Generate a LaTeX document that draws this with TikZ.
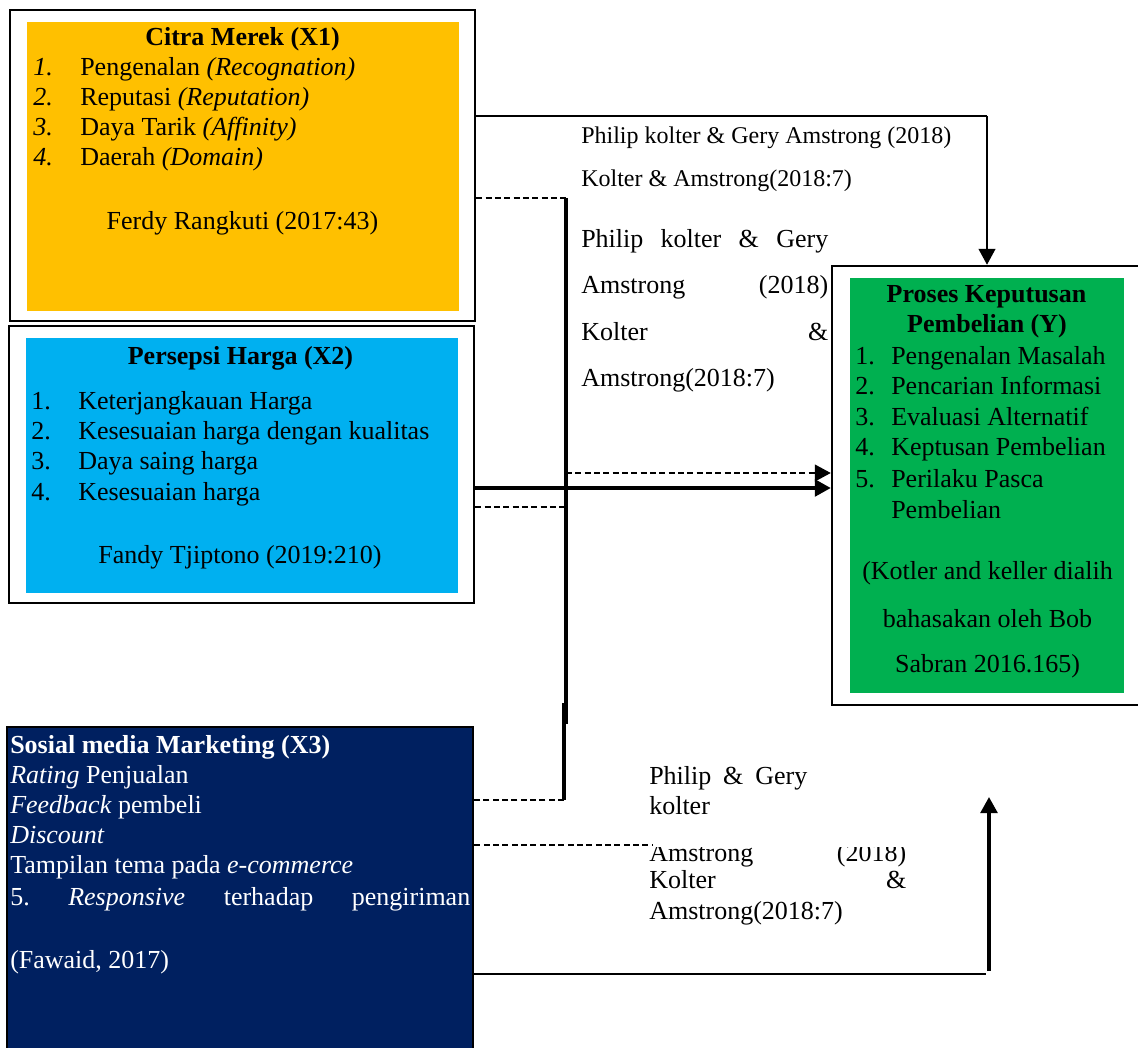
\documentclass[tikz,border=0pt]{standalone}
\usepackage{fontspec}
\setmainfont{Liberation Serif}
\usetikzlibrary{arrows.meta}
\definecolor{cmorange}{HTML}{FFC000}
\definecolor{cmcyan}{HTML}{00B0F0}
\definecolor{cmgreen}{HTML}{00B050}
\definecolor{cmnavy}{HTML}{002060}
\newcommand{\myfs}{\fontsize{19.5pt}{22.5pt}\selectfont}
\newcommand{\mysm}{\fontsize{18pt}{21pt}\selectfont}
\tikzset{
  outerbox/.style={draw=black, line width=1.8pt, inner sep=0pt, fill=white},
  fillbox/.style={draw=none, inner sep=0pt},
  txt/.style={inner sep=0pt, anchor=base west, font=\myfs},
  ctxt/.style={inner sep=0pt, anchor=base, font=\myfs},
  smtxt/.style={inner sep=0pt, anchor=base west, font=\mysm},
  wtxt/.style={txt, text=white},
  tip/.style={-{Triangle[length=12pt,width=12.5pt]}},
  dsh/.style={line width=1.6pt, dash pattern=on 4.5pt off 2.5pt},
  thinln/.style={line width=1.1pt},
  midln/.style={line width=1.7pt},
  thkln/.style={line width=2.6pt},
}
\begin{document}
\begin{tikzpicture}[x=0.75pt,y=-0.75pt]
\clip (0,0) rectangle (1138,1048);
\fill[white] (0,0) rectangle (1138,1048);

% ---------- boxes ----------
\node[outerbox, minimum width=348.75pt, minimum height=233.25pt] (x1) at (242.5,165.5) {};
\node[fillbox, fill=cmorange, minimum width=324pt, minimum height=216.75pt] (x1f) at (243,166.5) {};
\node[outerbox, minimum width=348.75pt, minimum height=207.75pt] (x2) at (241.5,464.5) {};
\node[fillbox, fill=cmcyan, minimum width=324pt, minimum height=191.25pt] (x2f) at (242,465.5) {};
\node[outerbox, minimum width=246pt, minimum height=329.25pt] (y) at (996,485.5) {};
\node[fillbox, fill=cmgreen, minimum width=205.5pt, minimum height=311.25pt] (yf) at (987,485.5) {};
\node[outerbox, fill=cmnavy, line width=2.2pt, minimum width=349.5pt, minimum height=257.25pt] (x3) at (240,898.5) {};

% ---------- X1 text ----------
\node[ctxt] (x1t) at (242.5,46) {\textbf{Citra Merek (X1)}};
\node[txt] (x1n1) at (33,76) {\textit{1.}};
\node[txt] (x1n2) at (33,106) {\textit{2.}};
\node[txt] (x1n3) at (33,136) {\textit{3.}};
\node[txt] (x1n4) at (33,166) {\textit{4.}};
\node[txt] (x1i1) at (80,76) {Pengenalan \textit{(Recognation)}};
\node[txt] (x1i2) at (80,106) {Reputasi \textit{(Reputation)}};
\node[txt] (x1i3) at (80,136) {Daya Tarik \textit{(Affinity)}};
\node[txt] (x1i4) at (80,166) {Daerah \textit{(Domain)}};
\node[ctxt] (x1s) at (242.5,230) {Ferdy Rangkuti (2017:43)};

% ---------- X2 text ----------
\node[ctxt] (x2t) at (240.5,364) {\textbf{Persepsi Harga (X2)}};
\node[txt] (x2n1) at (31,409) {1.};
\node[txt] (x2n2) at (31,439) {2.};
\node[txt] (x2n3) at (31,469) {3.};
\node[txt] (x2n4) at (31,500) {4.};
\node[txt] (x2i1) at (78,409) {Keterjangkauan Harga};
\node[txt] (x2i2) at (78,439) {Kesesuaian harga dengan kualitas};
\node[txt] (x2i3) at (78,469) {Daya saing harga};
\node[txt] (x2i4) at (78,500) {Kesesuaian harga};
\node[ctxt] (x2s) at (240,563) {Fandy Tjiptono (2019:210)};

% ---------- Y text ----------
\node[ctxt] (yt1) at (986.5,303) {\textbf{Proses Keputusan}};
\node[ctxt] (yt2) at (987,333) {\textbf{Pembelian (Y)}};
\node[txt] (yn1) at (855,364) {1.};
\node[txt] (yn2) at (855,394) {2.};
\node[txt] (yn3) at (855,425) {3.};
\node[txt] (yn4) at (855,455) {4.};
\node[txt] (yn5) at (855,487) {5.};
\node[txt] (yi1) at (891,364) {Pengenalan Masalah};
\node[txt] (yi2) at (891,394) {Pencarian Informasi};
\node[txt] (yi3) at (891,425) {Evaluasi Alternatif};
\node[txt] (yi4) at (891,455) {Keptusan Pembelian};
\node[txt] (yi5) at (891,487) {Perilaku Pasca};
\node[txt] (yi6) at (891,518) {Pembelian};
\node[ctxt] (ys1) at (987.5,579) {(Kotler and keller dialih};
\node[ctxt] (ys2) at (987.5,627) {bahasakan oleh Bob};
\node[ctxt] (ys3) at (987.5,672) {Sabran 2016.165)};

% ---------- X3 text ----------
\node[wtxt] (x3t) at (10,753) {\textbf{Sosial media Marketing (X3)}};
\node[wtxt] (x3i1) at (10,783) {\textit{Rating} Penjualan};
\node[wtxt] (x3i2) at (10,813) {\textit{Feedback} pembeli};
\node[wtxt] (x3i3) at (10,843) {\textit{Discount}};
\node[wtxt] (x3i4) at (10,873) {Tampilan tema pada \textit{e-commerce}};
\node[wtxt] (x3i5) at (10,905) {\makebox[345pt][s]{5.\hfill\textit{Responsive}\hfill terhadap\hfill pengiriman}};
\node[wtxt] (x3s) at (10,968) {(Fawaid, 2017)};

% ---------- labels between boxes ----------
\node[smtxt] (la1) at (581,144) {Philip kolter \& Gery Amstrong (2018)};
\node[smtxt] (la2) at (581,187) {Kolter \& Amstrong(2018:7)};
\node[txt] (lb1) at (581,248) {\makebox[185.25pt][s]{Philip\hfill kolter\hfill \&\hfill Gery}};
\node[txt] (lb2) at (581,294) {\makebox[185.25pt][s]{Amstrong\hfill (2018)}};
\node[txt] (lb3) at (581,340) {\makebox[185.25pt][s]{Kolter\hfill \&}};
\node[txt] (lb4) at (581,387) {Amstrong(2018:7)};
\node[txt] (lc1) at (649,784) {\makebox[118.5pt][s]{Philip\hfill \&\hfill Gery}};
\node[txt] (lc2) at (649,814) {kolter};
\begin{scope}
\clip (600,847) rectangle (960,875);
\node[txt] (lc3) at (649,861) {\makebox[192.75pt][s]{Amstrong\hfill (2018)}};
\end{scope}
\node[txt] (lc4) at (649,888) {\makebox[192.75pt][s]{Kolter\hfill \&}};
\node[txt] (lc5) at (649,919) {Amstrong(2018:7)};

% ---------- connectors ----------
\coordinate (k1) at (987,116);
\draw[thinln] (x1.east |- k1) -- (k1);
\draw[midln, tip] (k1) -- (k1 |- y.north);

\coordinate (j1) at (566,198);
\coordinate (j2) at (566,724);
\coordinate (j3) at (564,703);
\coordinate (j4) at (564,800);
\draw[dsh] (x1.east |- j1) -- (j1);
\draw[line width=2.4pt] (j1) -- (j2);
\draw[line width=2.4pt] (j3) -- (j4);
\draw[dsh] (j4) -- (x3.east |- j4);

\coordinate (j5) at (566,473);
\draw[dsh, tip] (j5) -- (y.west |- j5);
\coordinate (j6) at (700,488);
\draw[thkln, tip] (x2.east |- j6) -- (y.west |- j6);
\coordinate (j7) at (566,507);
\draw[dsh] (x2.east |- j7) -- (j7);

\coordinate (j8) at (652,845);
\draw[dsh] (x3.east |- j8) -- (j8);

\coordinate (j9) at (986,974);
\draw[midln] (x3.east |- j9) -- (j9);
\coordinate (j10) at (989,971);
\coordinate (j11) at (989,797);
\draw[thkln, tip] (j10) -- (j11);
\end{tikzpicture}
\end{document}
